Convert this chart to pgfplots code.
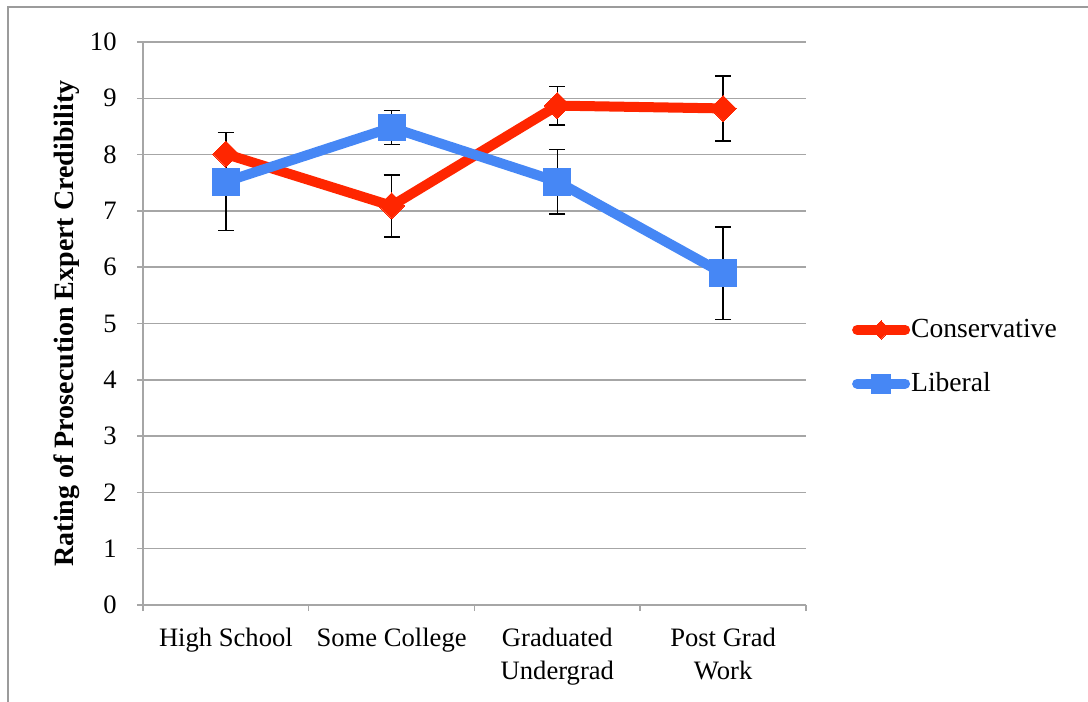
\documentclass[border=0pt]{standalone}
\usepackage{fontspec}
\setmainfont{Liberation Serif}
\usepackage{pgfplots}
\pgfplotsset{compat=1.18}
\definecolor{consred}{RGB}{255,38,0}
\definecolor{libblue}{RGB}{70,135,245}
\definecolor{gridgray}{RGB}{166,166,166}
\definecolor{framegray}{RGB}{155,155,155}
\begin{document}
\begin{tikzpicture}
\useasboundingbox (0,0) rectangle (544pt,351pt);
\draw[framegray, line width=1pt] (4pt,0pt) -- (4pt,347.5pt) -- (544pt,347.5pt);
\begin{axis}[
  at={(71.5pt,48.5pt)}, anchor=origin,
  scale only axis, width=331.5pt, height=281.5pt,
  xmin=0.5, xmax=4.5, ymin=0, ymax=10,
  axis x line=bottom, axis y line=left,
  axis line style={gridgray, line width=0.75pt, -},
  tick align=outside,
  major tick length=3pt,
  tick style={gridgray, line width=0.75pt},
  xtick={0.5,1.5,2.5,3.5,4.5}, xticklabels={},
  extra x ticks={1,2,3,4},
  extra x tick labels={High School, Some College, Graduated\\Undergrad, Post Grad\\Work},
  extra x tick style={major tick length=0pt, grid=none,
    xticklabel style={align=center, anchor=north, inner sep=0pt, yshift=-11.5pt}},
  ytick={0,1,...,10},
  ymajorgrids, grid style={gridgray, line width=0.75pt},
  /pgf/number format/assume math mode=true,
  ticklabel style={font=\fontsize{13.3}{16.2}\selectfont},
  yticklabel style={anchor=east, inner sep=0pt, xshift=-10pt},
  ylabel={\textbf{Rating of Prosecution Expert Credibility}},
  ylabel style={at={(axis description cs:-0.1146,0.5)}, anchor=center, font=\fontsize{14}{16}\selectfont},
  clip=false,
  legend style={at={(axis description cs:1.069,0.4405)}, anchor=west, draw=none, fill=none,
    font=\fontsize{13.8}{16}\selectfont, row sep=12pt, inner sep=0pt,
    nodes={inner xsep=0.5pt},
    /tikz/every even column/.append style={column sep=0pt}},
  legend cell align=left,
  legend image code/.code={
    \draw[#1, mark=none, line cap=round] (2.5pt,0pt) -- (26.5pt,0pt);
    \draw[#1, draw=none, every mark/.append style={scale=0.7}] plot coordinates {(14.5pt,0pt)};
  },
]
\addplot[consred, line width=5pt, mark=square*, mark size=4.6pt,
  mark options={rotate=45, line width=0pt, fill=consred},
  error bars/.cd, y dir=both, y explicit,
  error bar style={black, line width=0.8pt},
  error mark options={rotate=90, mark size=4pt, black, line width=0.8pt}]
  coordinates {
  (1,8.01) +- (0,0.38)
  (2,7.09) +- (0,0.55)
  (3,8.87) +- (0,0.34)
  (4,8.82) +- (0,0.58)
  };
\addlegendentry{Conservative}
\addplot[libblue, line width=5pt, mark=square*, mark size=6.7pt,
  mark options={line width=0pt, fill=libblue},
  error bars/.cd, y dir=both, y explicit,
  error bar style={black, line width=0.8pt},
  error mark options={rotate=90, mark size=4pt, black, line width=0.8pt}]
  coordinates {
  (1,7.52) +- (0,0.87)
  (2,8.48) +- (0,0.30)
  (3,7.52) +- (0,0.57)
  (4,5.89) +- (0,0.82)
  };
\addlegendentry{Liberal}
\end{axis}
\end{tikzpicture}
\end{document}
